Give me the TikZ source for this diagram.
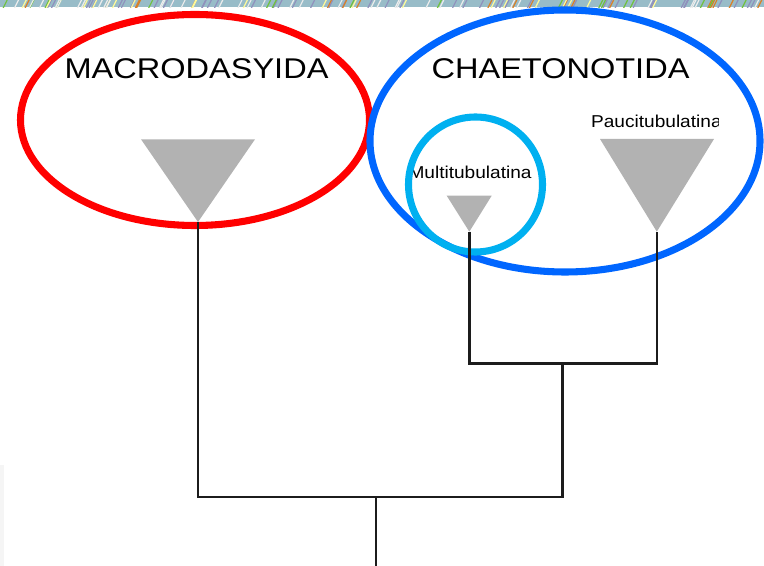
\documentclass[tikz,border=0pt]{standalone}
\usepackage{fontspec}
\setmainfont{Liberation Sans}
\definecolor{ellred}{HTML}{FF0000}
\definecolor{ellblue}{HTML}{0066FF}
\definecolor{ellcyan}{HTML}{00B0F0}
\definecolor{trigrey}{HTML}{B2B2B2}
\definecolor{treeline}{HTML}{1C1C1C}
\definecolor{bandbase}{HTML}{98BCC8}
\begin{document}
\begin{tikzpicture}[x=0.75pt,y=-0.75pt,
  bigtxt/.style={anchor=base west,inner sep=0pt,xscale=1.14,font=\fontsize{21.4}{24}\selectfont},
  smalltxt/.style={anchor=base west,inner sep=0pt,xscale=1.11,font=\fontsize{12.9}{15}\selectfont},
  ring/.style={line width=5.3pt},
  tri/.style={fill=trigrey},
  branch/.style={draw=treeline,line width=1.9pt,line join=miter}]
\useasboundingbox (0,0) rectangle (764,566);
% decorative top band
\begin{scope}
  \clip (0,0) rectangle (764,7.5);
  \fill[bandbase] (0,0) rectangle (764,7.5);
  \pgfmathsetseed{7}
  \foreach \col/\n in {{blue!25!gray!70!white}/50,{orange!70!gray}/18,{green!40!gray!80!yellow}/18,{yellow!40!white}/20,{white!85!gray}/35}{
    \foreach \k in {1,...,\n}{
      \pgfmathsetmacro\xx{rnd*780}
      \draw[\col,line width=0.9pt] (\xx,8) -- ++(4,-8);
    }
  }
\end{scope}
% faint strip at left
\fill[black!4] (0,465) rectangle (4,566);
% labels
\node[bigtxt] (macro) at (64.3,78.3) {MACRODASYIDA};
\node[bigtxt] (chaeto) at (431.3,78.3) {CHAETONOTIDA};
\node[smalltxt] (multi) at (408.2,178.3) {Multitubulatina};
\begin{scope}
  \clip (580,100) rectangle (718.5,135);
  \node[smalltxt] (pauci) at (590.8,127.3) {Paucitubulatina};
\end{scope}
% ellipses
\draw[ring,ellred] (195,120) ellipse [x radius=174.5,y radius=105.5];
\draw[ring,ellblue] (565,141) ellipse [x radius=195,y radius=131];
\draw[ring,ellcyan] (475.5,184.5) ellipse [x radius=67,y radius=67.5];
% tree
\coordinate (ma) at (198,222);
\coordinate (mu) at (469.3,231.7);
\coordinate (pa) at (656.8,231.7);
\coordinate (j1) at (562.5,363.3);
\coordinate (root) at (376,497);
\coordinate (rootend) at (376,566);
\draw[branch] (mu) |- (j1) -| (pa);
\draw[branch] (ma) |- (root) -| (j1);
\draw[branch] (root) -- (rootend);
% clade triangles
\fill[tri] (141,139.3) -- (255,139.3) -- (ma) -- cycle;
\fill[tri] (446.7,195.7) -- (491.7,195.7) -- (mu) -- cycle;
\fill[tri] (600,139) -- (714,139) -- (pa) -- cycle;
\end{tikzpicture}
\end{document}
